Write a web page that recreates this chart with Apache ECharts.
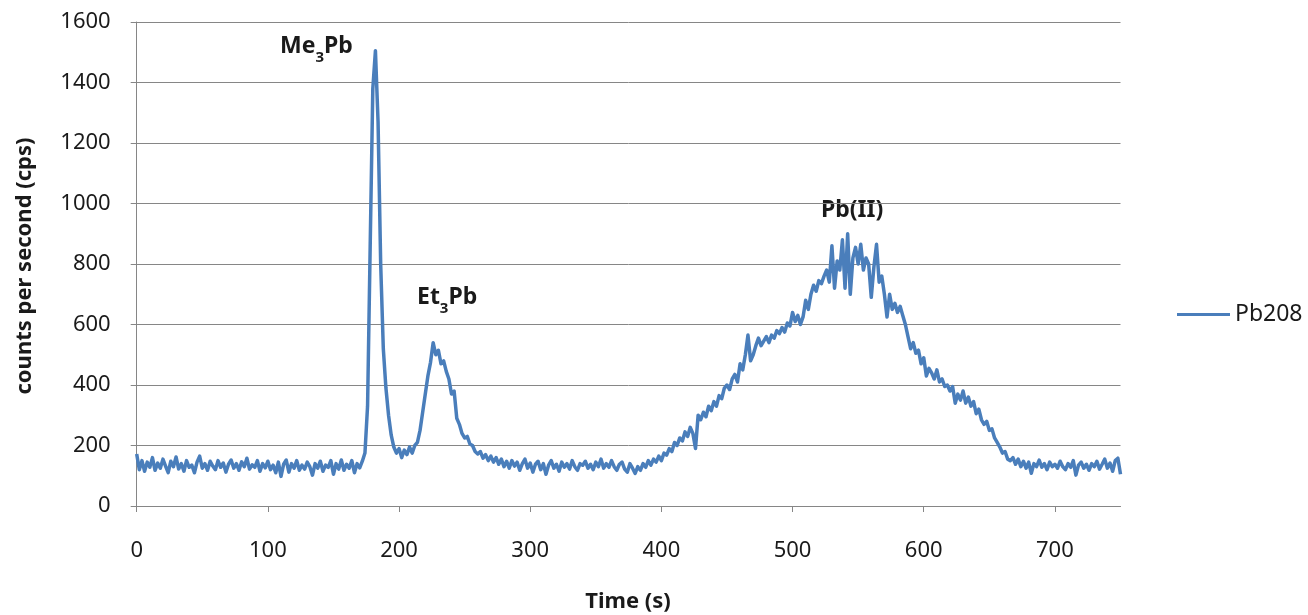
<!DOCTYPE html>
<html>
<head>
<meta charset="utf-8">
<script src="https://cdn.jsdelivr.net/npm/echarts@6/dist/echarts.min.js"></script>
<style>
html,body{margin:0;padding:0;background:#fff;}
#chart{width:1308px;height:615px;}
</style>
</head>
<body>
<div id="chart"></div>
<script>
// Sampling grid of the trace (seconds)
const timeStart = 0;
const timeStep = 2;
// Pb208 signal (cps), one value every 2 s from 0 to 750 s
const pb208 = [
  172,120,150,115,145,128,160,118,142,125,   // 0-18
  155,132,110,148,130,162,122,140,115,150,   // 20-38
  128,135,110,145,165,125,140,118,148,132,   // 40-58
  120,150,128,142,112,138,152,125,140,118,   // 60-78
  146,130,158,122,136,128,150,115,140,126,   // 80-98
  148,120,135,110,145,98,138,152,112,140,    // 100-118
  125,150,118,135,122,145,130,102,140,125,   // 120-138
  148,115,135,128,150,105,140,122,152,118,   // 140-158
  138,125,150,110,140,126,148,175,330,860,   // 160-178
  1380,1505,1270,800,520,390,300,235,195,175, // 180-198
  190,160,185,170,195,175,200,210,250,310,   // 200-218
  370,430,475,540,500,515,470,480,445,420,   // 220-238
  370,380,290,270,240,225,230,205,200,180,   // 240-258
  172,180,158,170,150,165,145,160,138,155,   // 260-278
  130,148,125,150,132,145,118,140,155,125,   // 280-298
  142,112,138,148,120,140,105,135,150,125,   // 300-318
  138,115,145,128,140,122,150,130,118,140,   // 320-338
  135,148,125,138,120,145,130,155,125,140,   // 340-358
  128,150,130,118,138,145,122,112,140,125,   // 360-378
  108,130,118,140,128,150,135,155,145,165,   // 380-398
  150,175,168,190,180,210,200,225,215,245,   // 400-418
  230,260,240,190,300,285,310,295,330,315,   // 420-438
  345,330,365,355,390,400,385,420,435,410,   // 440-458
  470,450,500,565,480,500,530,555,530,545,   // 460-478
  560,540,565,555,580,570,590,575,605,595,   // 480-498
  640,610,630,600,625,680,650,700,730,710,   // 500-518
  745,735,760,780,740,860,720,810,780,880,   // 520-538
  720,900,700,820,855,800,865,780,820,800,   // 540-558
  690,790,865,740,760,700,625,700,650,670,   // 560-578
  640,660,630,600,560,520,540,505,515,470,   // 580-598
  490,430,455,440,420,450,410,420,395,400,   // 600-618
  380,395,340,370,350,380,340,360,330,345,   // 620-638
  305,320,285,270,280,250,255,225,210,195,   // 640-658
  175,180,155,150,160,138,155,130,148,125,   // 660-678
  145,108,140,130,152,128,140,120,145,130,   // 680-698
  138,125,148,130,120,140,128,150,102,135,   // 700-718
  145,125,138,118,140,130,148,122,138,155,   // 720-738
  125,142,115,150,158,105                    // 740-750
];
const seriesName = 'Pb208';
const xTitle = 'Time (s)';
const yTitle = 'counts per second (cps)';
const xMin = 0, xMax = 750, xInterval = 100;
const yMin = 0, yMax = 1600, yInterval = 200;

const lineData = pb208.map((v, i) => [timeStart + i * timeStep, v]);

const FONT = '"Noto Sans", "DejaVu Sans", sans-serif';
const TXT = '#1a1a1a';
const AX = '#868686';
const bold = {fontFamily: FONT, fontSize: 23, fontWeight: 'bold', fill: TXT, lineHeight: 30, verticalAlign: 'top'};
const sub = {fontFamily: FONT, fontSize: 15, fontWeight: 'bold', fill: TXT, lineHeight: 16, verticalAlign: 'bottom'};

const chart = echarts.init(document.getElementById('chart'), null, {renderer: 'canvas'});
chart.setOption({
  animation: false,
  backgroundColor: '#fff',
  grid: {left: 136.7, right: 187.5, top: 22, bottom: 109, containLabel: false},
  legend: {
    data: [{name: seriesName, icon: 'rect'}],
    left: 1177, top: 303, padding: 0,
    itemWidth: 53, itemHeight: 3,
    textStyle: {fontFamily: FONT, fontSize: 23, color: TXT, padding: [0, 0, 0, 0]},
    itemGap: 5
  },
  xAxis: {
    type: 'value', min: xMin, max: xMax, interval: xInterval,
    axisLine: {show: true, onZero: false, lineStyle: {color: AX, width: 1}},
    axisTick: {show: true, inside: false, length: 6, lineStyle: {color: AX}},
    axisLabel: {fontFamily: FONT, fontSize: 22, color: TXT, margin: 34, showMaxLabel: false},
    splitLine: {show: false}
  },
  yAxis: {
    type: 'value', min: yMin, max: yMax, interval: yInterval,
    axisLine: {show: true, lineStyle: {color: AX, width: 1}},
    axisTick: {show: true, inside: false, length: 6, lineStyle: {color: AX}},
    axisLabel: {fontFamily: FONT, fontSize: 22, color: TXT, margin: 26, formatter: v => String(v)},
    splitLine: {show: true, lineStyle: {color: AX, width: 1}}
  },
  graphic: [
    {type: 'text', x: 25, y: 266, rotation: Math.PI / 2,
     style: {text: yTitle, fontFamily: FONT, fontSize: 22, fontWeight: 'bold', fill: TXT, align: 'center', verticalAlign: 'middle'}},
    {type: 'text', x: 628, y: 602,
     style: {text: xTitle, fontFamily: FONT, fontSize: 22, fontWeight: 'bold', fill: TXT, align: 'center', verticalAlign: 'middle'}},
    {type: 'text', x: 280, y: 35,
     style: {text: '{b|Me}{s|3}{b|Pb}', rich: {b: bold, s: sub}, align: 'left', verticalAlign: 'top'}},
    {type: 'text', x: 417, y: 286,
     style: {text: '{b|Et}{s|3}{b|Pb}', rich: {b: bold, s: sub}, align: 'left', verticalAlign: 'top'}},
    {type: 'text', x: 821, y: 210,
     style: {text: 'Pb(II)', fontFamily: FONT, fontSize: 23, fontWeight: 'bold', fill: TXT, align: 'left', verticalAlign: 'middle'}}
  ],
  series: [{
    name: seriesName, type: 'line', data: lineData,
    showSymbol: false, symbol: 'none', sampling: null,
    lineStyle: {color: '#4a7ebb', width: 3.5, join: 'round'},
    itemStyle: {color: '#4a7ebb'}
  }]
});
</script>
</body>
</html>
